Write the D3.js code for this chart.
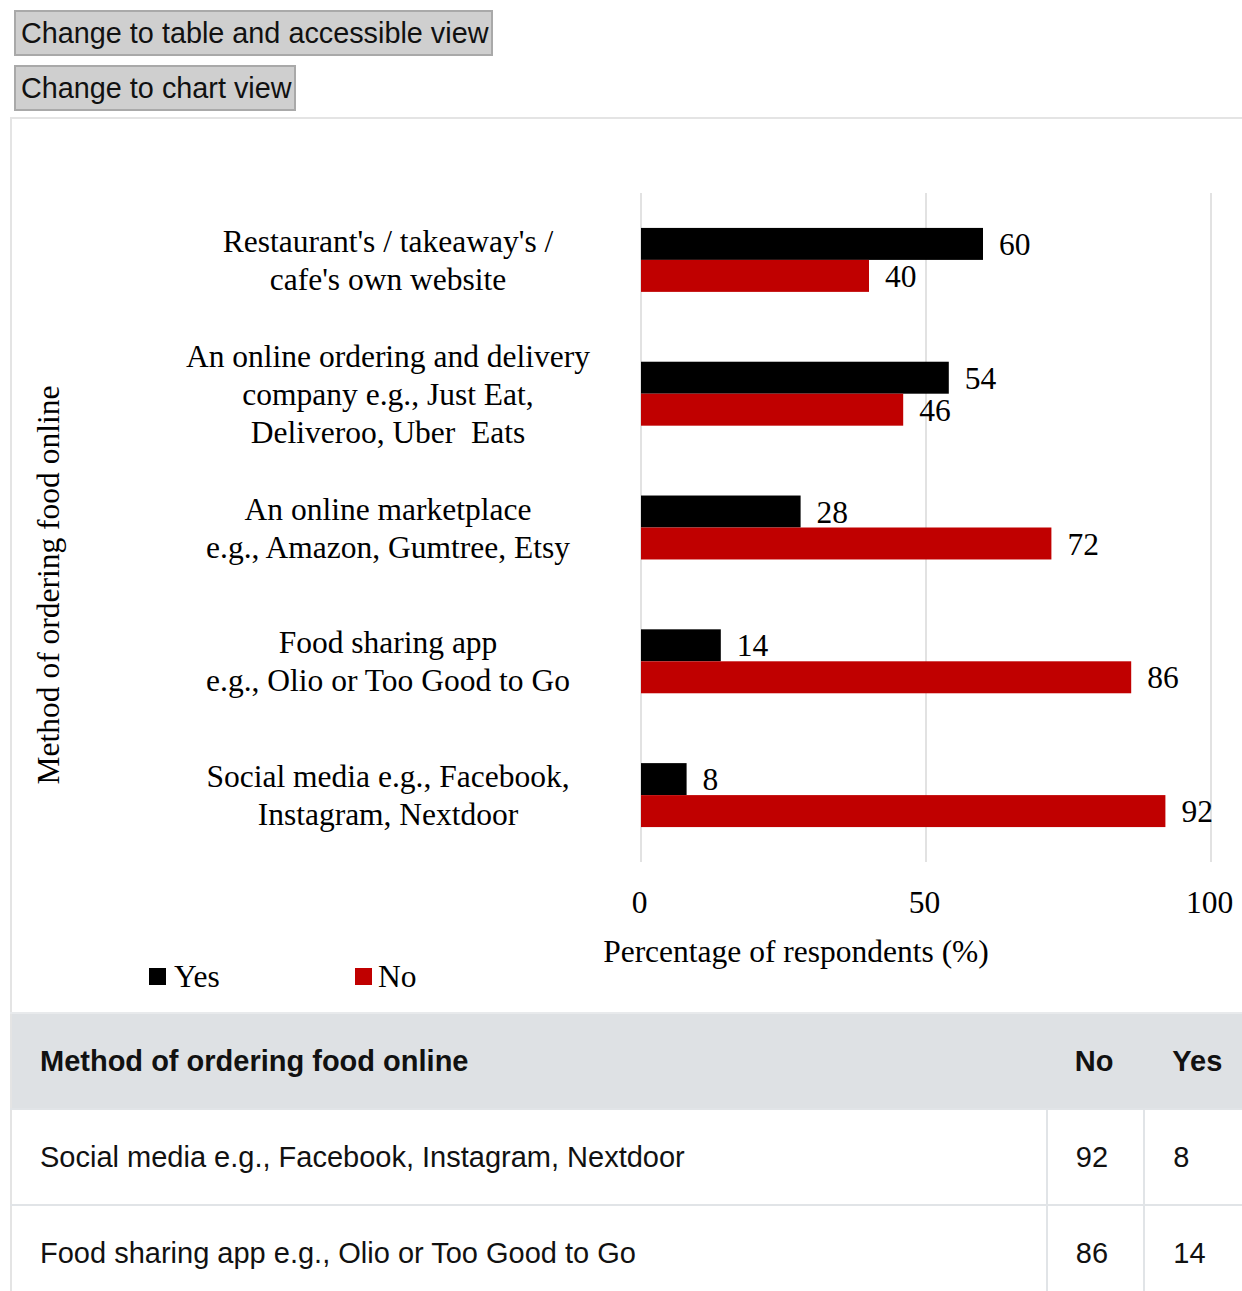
<!DOCTYPE html>
<html>
<head>
<meta charset="utf-8">
<script src="https://cdn.jsdelivr.net/npm/d3@7"></script>
<style>
  html, body { margin: 0; padding: 0; background: #fff; }
  body { position: relative; width: 1242px; height: 1291px; overflow: hidden; }
  .btn {
    position: absolute; left: 14px; box-sizing: border-box;
    background: #cfcfcf; border: 2px solid #a9a9a9;
    font-family: "Liberation Sans", Arial, sans-serif; font-size: 28.8px; color: #111;
    padding: 0 5px; line-height: 42px; white-space: nowrap;
  }
  #chartBox {
    position: absolute; left: 10px; top: 117px; width: 1240px; height: 896px;
    border-left: 2px solid #e4e4e4; border-top: 2px solid #e4e4e4; box-sizing: border-box;
  }
  svg { position: absolute; left: 0; top: 0; }
  table {
    position: absolute; left: 10px; top: 1012px; width: 1240px;
    border-collapse: collapse; font-family: "Liberation Sans", Arial, sans-serif;
    font-size: 29px; color: #111; border-left: 2px solid #e4e4e4;
  }
  th, td { text-align: left; padding: 0 0 0 28px; box-sizing: border-box; white-space: nowrap; }
  thead tr { background: #dee1e4; height: 96px; border-top: 2px solid #e8eaec; }
  th { font-weight: bold; }
  tbody tr { height: 96px; border-top: 2px solid #e1e4e7; }
  tbody td + td { border-left: 2px solid #e1e4e7; }
</style>
</head>
<body>
<script>
// Chart data: categories (wrapped label lines), series values, axis ticks
const categoryLines = [
  ["Restaurant's / takeaway's /", "cafe's own website"],
  ["An online ordering and delivery", "company e.g., Just Eat,", "Deliveroo, Uber  Eats"],
  ["An online marketplace", "e.g., Amazon, Gumtree, Etsy"],
  ["Food sharing app", "e.g., Olio or Too Good to Go"],
  ["Social media e.g., Facebook,", "Instagram, Nextdoor"]
];
const seriesNames = ["Yes", "No"];
const seriesColors = ["#000000", "#c00000"];
const yesValues = [60, 54, 28, 14, 8];
const noValues = [40, 46, 72, 86, 92];
const xTicks = [0, 50, 100];
const xTitle = "Percentage of respondents (%)";
const yTitle = "Method of ordering food online";
const buttonLabels = ["Change to table and accessible view", "Change to chart view"];

const body = d3.select("body");

// toggle buttons
body.append("div").attr("class", "btn").style("top", "10px").style("width", "479px").style("height", "46px").text(buttonLabels[0]);
body.append("div").attr("class", "btn").style("top", "65px").style("width", "282px").style("height", "46px").text(buttonLabels[1]);

body.append("div").attr("id", "chartBox");

const serif = "'Liberation Serif', 'Times New Roman', serif";
const fs = 31.5;
const svg = body.append("svg").attr("width", 1242).attr("height", 1012);

const categories = categoryLines.map(l => l.join(" ").replace(/\s+/g, " "));
const rows = categories.map((c, i) => ({ cat: c, lines: categoryLines[i], Yes: yesValues[i], No: noValues[i] }));

const x = d3.scaleLinear().domain([0, 100]).range([641, 1211]);
const y = d3.scaleBand().domain(categories).range([193, 862]).paddingInner(0.522).paddingOuter(0.261);
const ySub = d3.scaleBand().domain(seriesNames).range([0, y.bandwidth()]);
const color = d3.scaleOrdinal().domain(seriesNames).range(seriesColors);

// vertical gridlines
svg.append("g").selectAll("line").data(xTicks).join("line")
  .attr("x1", d => x(d)).attr("x2", d => x(d))
  .attr("y1", 193).attr("y2", 862)
  .attr("stroke", "#d9d9d9").attr("stroke-width", 1.5);

// x axis tick labels
const xAxis = d3.axisBottom(x).tickValues(xTicks).tickSize(0).tickPadding(0);
const gx = svg.append("g").attr("transform", "translate(-2,902)").call(xAxis);
gx.select(".domain").remove();
gx.selectAll("text").attr("dy", "0.35em").attr("font-family", serif).attr("font-size", fs).attr("fill", "#000");

// bars
const groups = svg.append("g").selectAll("g").data(rows).join("g")
  .attr("transform", d => `translate(0,${y(d.cat)})`);
groups.selectAll("rect").data(d => seriesNames.map(s => ({ s, v: d[s] }))).join("rect")
  .attr("x", x(0)).attr("y", d => ySub(d.s))
  .attr("width", d => x(d.v) - x(0)).attr("height", ySub.bandwidth())
  .attr("fill", d => color(d.s));
groups.selectAll("text").data(d => seriesNames.map(s => ({ s, v: d[s] }))).join("text")
  .attr("x", d => x(d.v) + 16).attr("y", d => ySub(d.s) + ySub.bandwidth() / 2)
  .attr("dy", "0.35em").attr("font-family", serif).attr("font-size", fs).attr("fill", "#000")
  .text(d => d.v);

// category labels
const labelX = 388, lineH = 38;
svg.append("g").selectAll("text").data(rows).join("text")
  .attr("text-anchor", "middle").attr("font-family", serif).attr("font-size", fs).attr("fill", "#000")
  .each(function (d) {
    const cy = y(d.cat) + y.bandwidth() / 2;
    const n = d.lines.length;
    d3.select(this).selectAll("tspan").data(d.lines).join("tspan")
      .attr("x", labelX)
      .attr("y", (l, i) => cy + (i - (n - 1) / 2) * lineH)
      .attr("dy", "0.35em")
      .style("white-space", "pre")
      .text(l => l);
  });

// axis titles
svg.append("text").attr("x", 796).attr("y", 951).attr("dy", "0.35em").attr("text-anchor", "middle")
  .attr("font-family", serif).attr("font-size", fs).attr("fill", "#000").text(xTitle);
svg.append("text").attr("transform", "translate(48,585) rotate(-90)").attr("dy", "0.35em").attr("text-anchor", "middle")
  .attr("font-family", serif).attr("font-size", fs).attr("fill", "#000").text(yTitle);

// legend
const legendX = [149, 355];
const lg = svg.append("g").selectAll("g").data(seriesNames).join("g")
  .attr("transform", (d, i) => `translate(${legendX[i]},976)`);
lg.append("rect").attr("x", 0).attr("y", -8).attr("width", 17).attr("height", 17).attr("fill", d => color(d));
lg.append("text").attr("x", d => d === "Yes" ? 25 : 23).attr("dy", "0.35em")
  .attr("font-family", serif).attr("font-size", fs).attr("fill", "#000").text(d => d);

// data table (rows listed bottom-up)
const table = body.append("table");
const cols = ["Method of ordering food online", "No", "Yes"];
table.append("colgroup").selectAll("col").data([1036, 98, 106]).join("col").style("width", d => d + "px");
table.append("thead").append("tr").selectAll("th").data(cols).join("th").text(d => d);
table.append("tbody").selectAll("tr").data(rows.slice().reverse()).join("tr")
  .selectAll("td").data(d => [d.cat, d.No, d.Yes]).join("td").text(d => d);
</script>
</body>
</html>
